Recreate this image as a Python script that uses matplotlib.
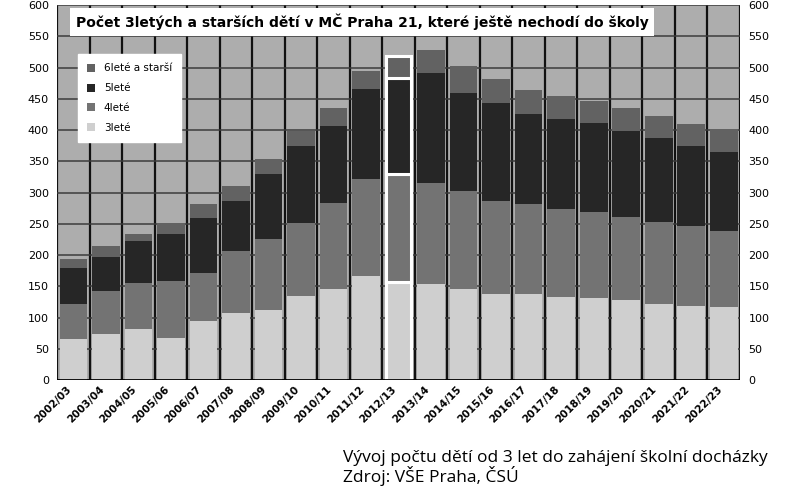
import matplotlib.pyplot as plt
import numpy as np

# Data (odhad z obrázku)
roky = ["2002/03", "2003/04", "2004/05", "2005/06", "2006/07", "2007/08", "2008/09",
        "2009/10", "2010/11", "2011/12", "2012/13", "2013/14", "2014/15", "2015/16",
        "2016/17", "2017/18", "2018/19", "2019/20", "2020/21", "2021/22", "2022/23"]
tri_lete = [65, 74, 82, 68, 94, 107, 112, 135, 146, 167, 157, 154, 146, 138,
            138, 133, 132, 128, 122, 119, 117]
ctyr_lete = [57, 68, 73, 91, 78, 100, 114, 117, 137, 155, 172, 162, 157, 149,
             144, 141, 137, 133, 131, 128, 122]
pet_lete = [58, 55, 67, 75, 88, 79, 104, 123, 123, 144, 155, 175, 157, 157,
            144, 144, 142, 138, 135, 128, 126]
sest_lete = [13, 17, 12, 17, 22, 25, 24, 23, 30, 29, 34, 37, 43, 37,
             38, 37, 35, 37, 35, 35, 36]
zvyrazneny = "2012/13"

serie = [("3leté", tri_lete, "#cfcfcf"),
         ("4leté", ctyr_lete, "#737373"),
         ("5leté", pet_lete, "#262626"),
         ("6leté a starší", sest_lete, "#626262")]

fig = plt.figure(figsize=(7.94, 4.90), dpi=100)
ax = fig.add_axes([0.072, 0.2245, 0.86, 0.765])
ax.set_facecolor("#adadad")

x = np.arange(len(roky))
dole = np.zeros(len(roky))
handles = []
for nazev, hodnoty, barva in serie:
    h = ax.bar(x, hodnoty, 0.85, bottom=dole, color=barva, label=nazev, zorder=3)
    handles.append(h)
    dole += np.array(hodnoty)

# zvyrazneny sloupec s bilym okrajem
i = roky.index(zvyrazneny)
b = 0
for nazev, hodnoty, barva in serie:
    ax.bar(x[i], hodnoty[i], 0.76, bottom=b, color=barva, edgecolor="white",
           linewidth=2.2, zorder=4)
    b += hodnoty[i]

# mrizka
for k in range(len(roky) + 1):
    ax.axvline(k - 0.5, color="#111111", lw=1.6, zorder=2)
for v in range(0, 601, 50):
    ax.axhline(v, color="#3c3c3c", lw=1.1, zorder=2)

ax.set_xlim(-0.5, len(roky) - 0.5)
ax.set_ylim(0, 600)
ax.set_yticks(range(0, 601, 50))
ax.tick_params(axis="y", labelsize=8, length=0, labelright=True, pad=6)
ax.set_xticks(x)
ax.set_xticklabels(roky, rotation=45, ha="right", fontsize=7.5, fontweight="bold")
ax.tick_params(axis="x", length=0, pad=3)
for s in ax.spines.values():
    s.set_visible(False)
ax.axhline(0, color="black", lw=2, zorder=5)

# nadpis v bilem ramecku
ax.text(0.027, 0.955, "Počet 3letých a starších dětí v MČ Praha 21, které ještě nechodí do školy",
        transform=ax.transAxes, fontsize=10, fontweight="bold", va="center", ha="left",
        zorder=6, bbox=dict(facecolor="white", edgecolor="none", pad=4))

leg = ax.legend(handles[::-1], [s[0] for s in serie][::-1], loc="upper left",
                bbox_to_anchor=(0.03, 0.87), fontsize=7.5, frameon=True, fancybox=False,
                framealpha=1, handlelength=0.8, handleheight=0.8, borderpad=0.9,
                labelspacing=0.95, borderaxespad=0)
leg.get_frame().set_facecolor("white")
leg.get_frame().set_edgecolor("white")
leg.set_zorder(6)

fig.text(0.432, 0.008, "Vývoj počtu dětí od 3 let do zahájení školní docházky\nZdroj: VŠE Praha, ČSÚ",
         fontsize=12.5, family="Open Sans", ha="left", va="bottom", linespacing=1.0)

fig.savefig("out.png", dpi=100)
